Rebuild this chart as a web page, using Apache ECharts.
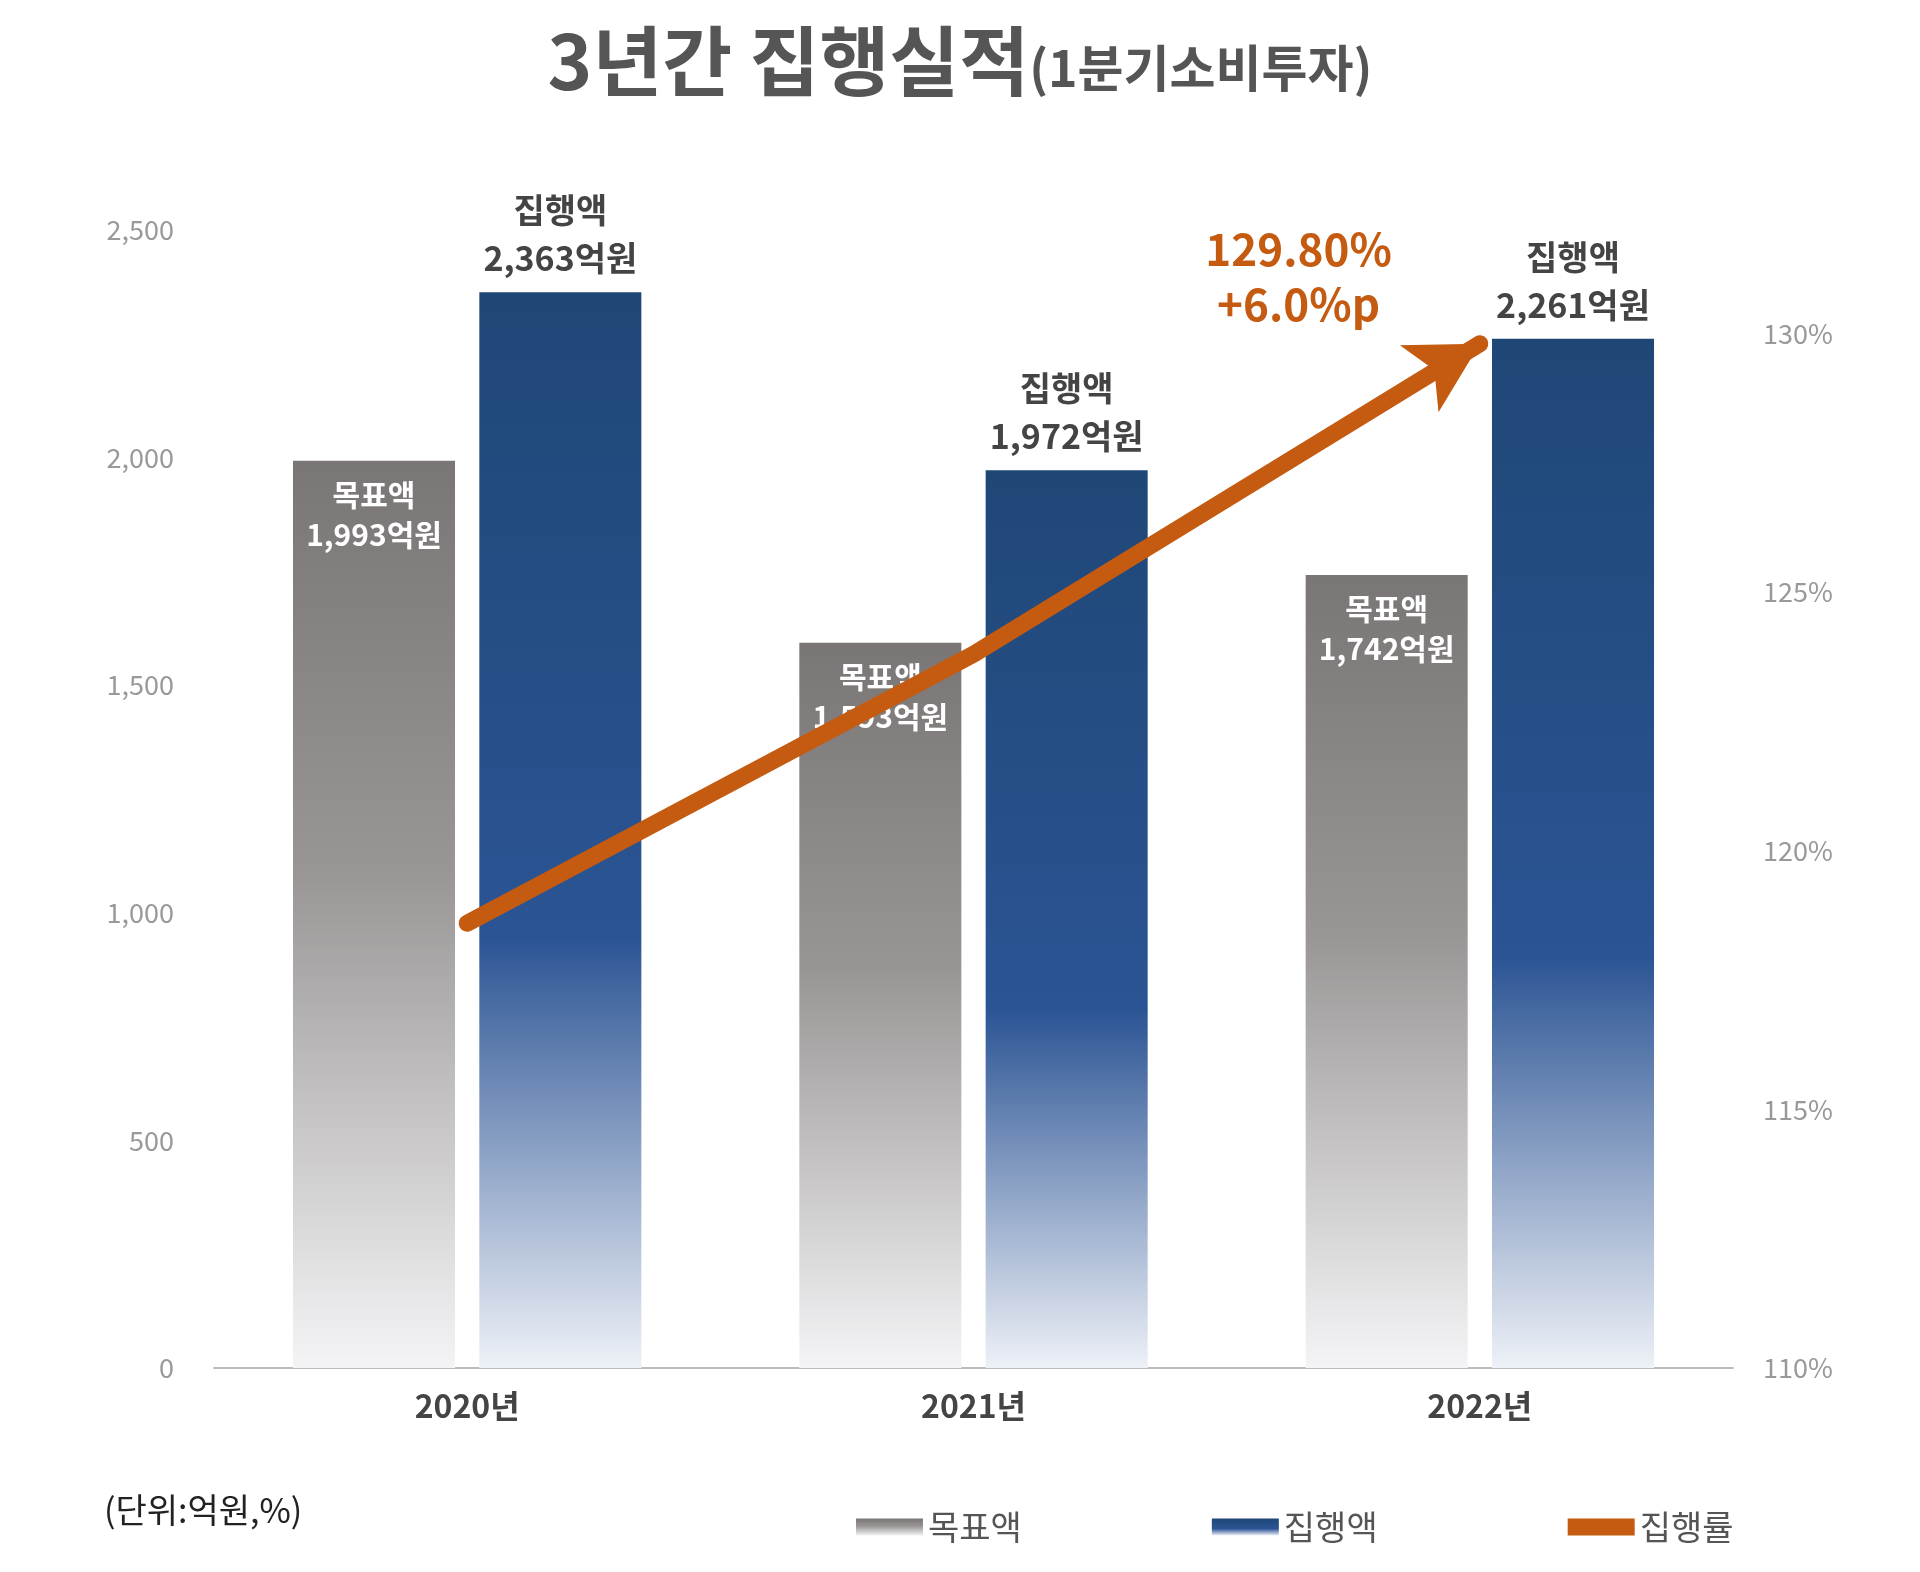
<!DOCTYPE html>
<html>
<head>
<meta charset="utf-8">
<script src="https://cdn.jsdelivr.net/npm/echarts@6/dist/echarts.min.js"></script>
<style>html,body{margin:0;background:#fff}#chart{width:1920px;height:1572px}</style>
</head>
<body>
<div id="chart"></div>
<script>
const years = ['2020년', '2021년', '2022년'];
const targetAmt = [1993, 1593, 1742];
const execAmt = [2363, 1972, 2261];
const execRate = [118.6, 123.8, 129.8];
const rateNotes = ['118.60%', '123.80%\n+5.2%p', '129.80%\n+6.0%p'];

const font = 'Noto Sans CJK KR';
const fmt = v => v.toLocaleString('en-US');

// label placement for the rate line
const rateLabelStyle = [
    { offset: [97, -134], color: '#fff', fontSize: 40 },
    { offset: [-96, -100], color: '#333', fontSize: 38 },
    { offset: [-151, -85], color: '#c55a11', fontSize: 44 }
];

let chart = echarts.init(document.getElementById('chart'));
chart.setOption({
    textStyle: { fontFamily: font },
    title: {
        text: '{a|3년간 집행실적}{b|(1분기소비투자)}',
        left: 'center',
        top: 18,
        textStyle: {
            rich: {
                a: { fontFamily: font, fontSize: 76, fontWeight: 'bold', color: '#555' },
                b: { fontFamily: font, fontSize: 50, fontWeight: 'bold', color: '#555', padding: [14, 0, 0, 0] }
            }
        }
    },
    graphic: [{
        type: 'text', left: 104, top: 1493,
        style: { text: '(단위:억원,%)', fontFamily: font, fontSize: 34, fill: '#222' }
    }],
    legend: {
        left: 851, top: 1505,
        itemWidth: 67, itemHeight: 17, itemGap: 190,
        icon: 'rect',
        textStyle: { fontFamily: font, fontSize: 34, color: '#555' },
        data: ['목표액', '집행액', '집행률']
    },
    grid: { left: 214, right: 187, top: 230, bottom: 204 },
    xAxis: {
        type: 'category',
        data: years,
        axisTick: { show: false },
        axisLine: { lineStyle: { color: '#bbb', width: 2 } },
        axisLabel: { fontSize: 32, fontWeight: 'bold', color: '#444', margin: 22 }
    },
    yAxis: [{
        type: 'value', min: 0, max: 2500, interval: 500,
        splitLine: { show: false },
        axisLabel: { fontSize: 27, color: '#999', margin: 40, formatter: v => fmt(v) }
    }, {
        type: 'value', min: 110, max: 132, interval: 5,
        splitLine: { show: false },
        axisLabel: {
            fontSize: 27, color: '#999', margin: 30, showMaxLabel: false,
            formatter: v => (v % 5 === 0 ? v + '%' : '')
        }
    }],
    series: [{
        name: '목표액',
        type: 'bar',
        barWidth: '32%',
        barGap: '15%',
        data: targetAmt,
        itemStyle: {
            color: new echarts.graphic.LinearGradient(0, 0, 0, 1, [
                { offset: 0, color: '#7a7675' },
                { offset: 0.45, color: '#999595' },
                { offset: 1, color: '#f4f4f6' }
            ])
        },
        label: {
            show: true, position: 'insideTop', distance: 14,
            fontSize: 30, fontWeight: 'bold', color: '#fff', lineHeight: 40,
            formatter: p => '목표액\n' + fmt(p.value) + '억원'
        }
    }, {
        name: '집행액',
        type: 'bar',
        barWidth: '32%',
        data: execAmt,
        itemStyle: {
            color: new echarts.graphic.LinearGradient(0, 0, 0, 1, [
                { offset: 0, color: '#1f4776' },
                { offset: 0.6, color: '#2b5494' },
                { offset: 1, color: '#eef1f7' }
            ])
        },
        label: {
            show: true, position: 'top', distance: 10,
            fontSize: 34, fontWeight: 'bold', color: '#444', lineHeight: 48,
            formatter: p => '집행액\n' + fmt(p.value) + '억원'
        }
    }, {
        name: '집행률',
        type: 'line',
        yAxisIndex: 1,
        z: 5,
        color: '#c55a11',
        lineStyle: { width: 17, color: '#c55a11', cap: 'round' },
        symbol: 'none',
        data: execRate.map((v, i) => ({
            value: v,
            symbol: i === execRate.length - 1 ? 'arrow' : 'none',
            symbolSize: [58, 70],
            symbolRotate: -60,
            symbolOffset: [0, 0],
            label: {
                show: true,
                position: 'inside',
                offset: rateLabelStyle[i].offset,
                color: rateLabelStyle[i].color,
                fontSize: rateLabelStyle[i].fontSize,
                fontWeight: 'bold',
                lineHeight: rateLabelStyle[i].fontSize * 1.25,
                formatter: () => rateNotes[i]
            }
        })),
        itemStyle: { color: '#c55a11' }
    }]
});
</script>
</body>
</html>
